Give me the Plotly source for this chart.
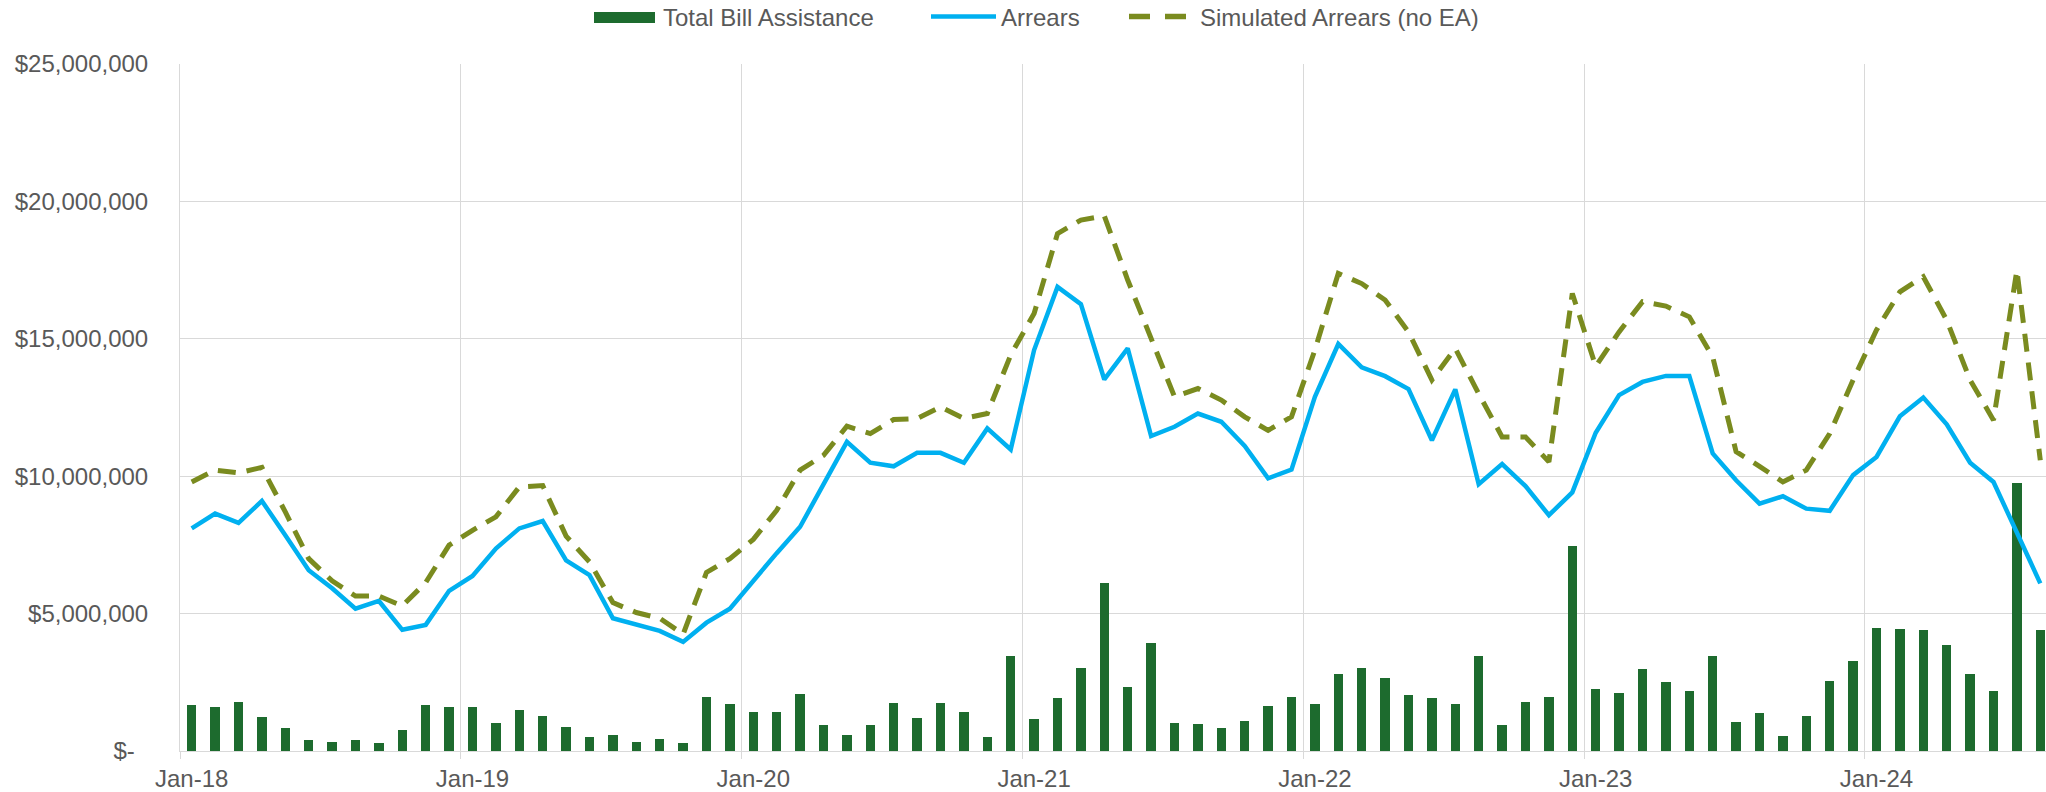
import plotly.graph_objects as go

# ---------------- data (values in $ millions) ----------------
years = ["18", "19", "20", "21", "22", "23", "24"]
month_names = ["Jan", "Feb", "Mar", "Apr", "May", "Jun", "Jul", "Aug", "Sep", "Oct", "Nov", "Dec"]
months = [f"{m}-{y}" for y in years for m in month_names][:80]   # Jan-18 .. Aug-24

bill_assistance = [
    1.675, 1.61, 1.78, 1.23, 0.84, 0.40, 0.34, 0.39, 0.29, 0.75, 1.675, 1.61,
    1.60, 1.02, 1.50, 1.29, 0.86, 0.52, 0.57, 0.33, 0.44, 0.30, 1.95, 1.70,
    1.42, 1.42, 2.06, 0.93, 0.57, 0.95, 1.74, 1.20, 1.74, 1.42, 0.52, 3.46,
    1.16, 1.93, 3.03, 6.10, 2.33, 3.93, 1.02, 0.99, 0.82, 1.11, 1.65, 1.97,
    1.70, 2.80, 3.02, 2.66, 2.03, 1.94, 1.70, 3.46, 0.93, 1.78, 1.97, 7.45,
    2.25, 2.12, 2.97, 2.50, 2.20, 3.45, 1.06, 1.38, 0.53, 1.26, 2.55, 3.28,
    4.47, 4.43, 4.40, 3.84, 2.79, 2.17, 9.76, 4.42,
]

arrears = [
    8.10, 8.64, 8.30, 9.10, 7.85, 6.58, 5.92, 5.18, 5.46, 4.41, 4.59, 5.83,
    6.37, 7.37, 8.10, 8.37, 6.94, 6.40, 4.83, 4.61, 4.37, 3.97, 4.67, 5.18,
    6.20, 7.20, 8.16, 9.71, 11.25, 10.49, 10.36, 10.85, 10.85, 10.49, 11.74, 10.97,
    14.59, 16.89, 16.26, 13.52, 14.65, 11.46, 11.80, 12.28, 11.98, 11.10, 9.92, 10.24,
    12.89, 14.81, 13.96, 13.64, 13.17, 11.31, 13.16, 9.71, 10.44, 9.64, 8.58, 9.41,
    11.58, 12.95, 13.43, 13.65, 13.65, 10.83, 9.85, 9.00, 9.27, 8.82, 8.74, 10.04,
    10.70, 12.18, 12.86, 11.89, 10.49, 9.79, 7.95, 6.10,
]

simulated = [
    9.79, 10.22, 10.12, 10.32, 8.70, 7.00, 6.19, 5.64, 5.64, 5.28, 6.13, 7.49,
    8.03, 8.52, 9.61, 9.66, 7.82, 6.88, 5.40, 5.04, 4.83, 4.25, 6.50, 7.00,
    7.70, 8.76, 10.22, 10.76, 11.82, 11.55, 12.06, 12.10, 12.52, 12.10, 12.28, 14.41,
    15.92, 18.83, 19.32, 19.47, 17.14, 15.07, 12.89, 13.19, 12.77, 12.16, 11.67, 12.16,
    14.59, 17.38, 17.01, 16.41, 15.25, 13.50, 14.65, 13.00, 11.43, 11.43, 10.52, 16.65,
    14.00, 15.25, 16.35, 16.19, 15.80, 14.34, 10.89, 10.36, 9.79, 10.22, 11.55, 13.50,
    15.32, 16.71, 17.26, 15.68, 13.50, 12.04, 17.50, 10.58,
]

y_tick_values = [0, 5e6, 10e6, 15e6, 20e6, 25e6]
y_tick_labels = ["$-\u00a0\u00a0", "$5,000,000", "$10,000,000", "$15,000,000", "$20,000,000", "$25,000,000"]

MILLION = 1e6
x_idx = list(range(len(months)))
jan_idx = [i for i, m in enumerate(months) if m.startswith("Jan")]
jan_labels = [months[i] for i in jan_idx]
boundaries = [i - 0.5 for i in jan_idx]

# ---------------- styles ----------------
FONT = "Liberation Sans, Arial, sans-serif"
TXT = "#595959"
GRID = "#D9D9D9"
C_BAR = "#1D6B2E"
C_ARR = "#00B0F0"
C_SIM = "#7A8B1F"

fig = go.Figure()
fig.add_trace(go.Bar(
    x=x_idx, y=[v * MILLION for v in bill_assistance], name="Total Bill Assistance",
    marker=dict(color=C_BAR, line=dict(width=0)), width=0.4, showlegend=False,
    customdata=months, hovertemplate="%{customdata}: $%{y:,.0f}<extra></extra>",
))
fig.add_trace(go.Scatter(
    x=x_idx, y=[v * MILLION for v in arrears], name="Arrears", mode="lines",
    line=dict(color=C_ARR, width=4.5), showlegend=False,
    customdata=months, hovertemplate="%{customdata}: $%{y:,.0f}<extra></extra>",
))
fig.add_trace(go.Scatter(
    x=x_idx, y=[v * MILLION for v in simulated], name="Simulated Arrears (no EA)", mode="lines",
    line=dict(color=C_SIM, width=5, dash="18px,11px"), showlegend=False,
    customdata=months, hovertemplate="%{customdata}: $%{y:,.0f}<extra></extra>",
))

W, H = 2046, 792
ML, MR, MT, MB = 180, 0, 64, 41
PW = W - ML - MR
PH = H - MT - MB
px_per_month = 23.4


def px(x):
    return (x - ML) / PW


def py(y):
    return (H - MB - y) / PH


# custom legend (top)
shapes = [
    dict(type="rect", xref="paper", yref="paper", x0=px(594), x1=px(655), y0=py(23), y1=py(12),
         fillcolor=C_BAR, line=dict(width=0)),
    dict(type="line", xref="paper", yref="paper", x0=px(931), x1=px(996), y0=py(16.5), y1=py(16.5),
         line=dict(color=C_ARR, width=4.5)),
    dict(type="line", xref="paper", yref="paper", x0=px(1129), x1=px(1150), y0=py(16.5), y1=py(16.5),
         line=dict(color=C_SIM, width=5.5)),
    dict(type="line", xref="paper", yref="paper", x0=px(1165), x1=px(1186), y0=py(16.5), y1=py(16.5),
         line=dict(color=C_SIM, width=5.5)),
]
annotations = [
    dict(text="Total Bill Assistance", x=px(661), y=py(17), xref="paper", yref="paper",
         xanchor="left", yanchor="middle", showarrow=False, font=dict(family=FONT, size=24, color=TXT)),
    dict(text="Arrears", x=px(999), y=py(17), xref="paper", yref="paper",
         xanchor="left", yanchor="middle", showarrow=False, font=dict(family=FONT, size=24, color=TXT)),
    dict(text="Simulated Arrears (no EA)", x=px(1198), y=py(17), xref="paper", yref="paper",
         xanchor="left", yanchor="middle", showarrow=False, font=dict(family=FONT, size=24, color=TXT)),
]

fig.update_layout(
    width=W, height=H,
    margin=dict(l=ML, r=MR, t=MT, b=MB, pad=0),
    paper_bgcolor="white", plot_bgcolor="white",
    font=dict(family=FONT, size=24, color=TXT),
    bargap=0, showlegend=False,
    shapes=shapes, annotations=annotations,
    xaxis=dict(
        range=[-0.5, -0.5 + PW / px_per_month],
        tickmode="array", tickvals=jan_idx, ticktext=jan_labels,
        showgrid=False, zeroline=False, ticks="",
        showline=True, linecolor=GRID, linewidth=1,
        ticklabelstandoff=6, automargin=False,
        tickfont=dict(family=FONT, size=24, color=TXT),
        minor=dict(tickmode="array", tickvals=boundaries, showgrid=True, gridcolor=GRID, gridwidth=1,
                   ticks="outside", ticklen=7, tickcolor=GRID, tickwidth=1),
    ),
    yaxis=dict(
        range=[0, 25e6], tickmode="array", tickvals=y_tick_values, ticktext=y_tick_labels,
        showgrid=True, gridcolor=GRID, gridwidth=1, zeroline=False,
        showline=True, linecolor=GRID, linewidth=1, ticks="",
        ticklabelstandoff=26, automargin=False,
        tickfont=dict(family=FONT, size=24, color=TXT),
    ),
)

fig.write_html(
    "out.html",
    config={"displayModeBar": False},
    post_script="document.body.style.margin='0';document.body.style.overflow='hidden';",
)
